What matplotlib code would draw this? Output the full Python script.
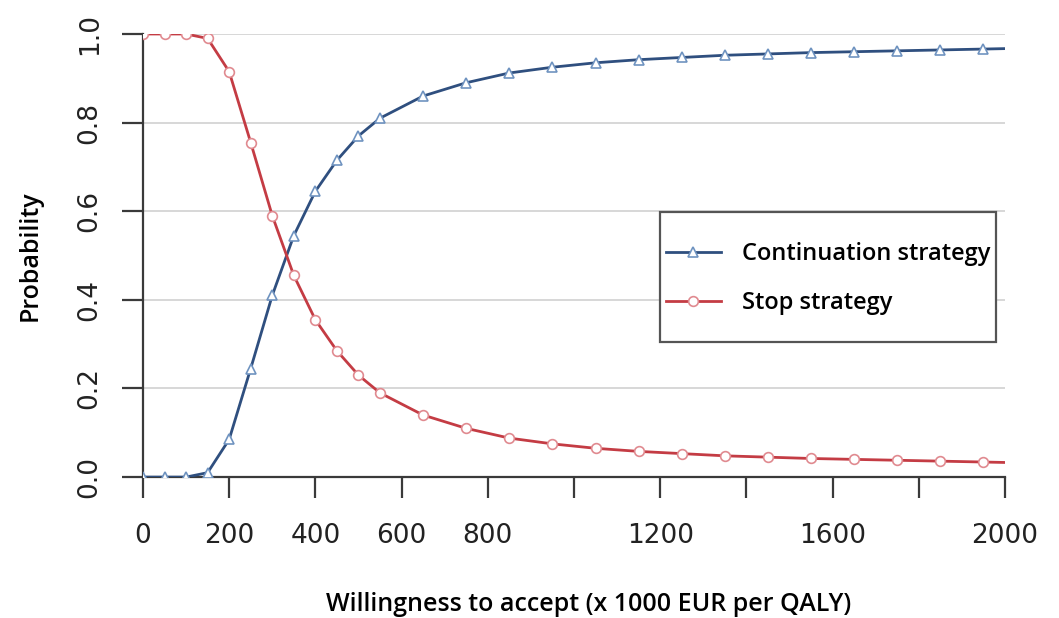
import matplotlib
matplotlib.use("Agg")
import matplotlib.pyplot as plt
from matplotlib.patches import Rectangle

# WTA (x 1000 EUR per QALY)
wta = [0, 50, 100, 150, 200, 250, 300, 350, 400, 450, 500, 550, 650, 750,
       850, 950, 1050, 1150, 1250, 1350, 1450, 1550, 1650, 1750, 1850, 1950, 2000]
continuation = [0.0, 0.0, 0.0, 0.01, 0.085, 0.245, 0.41, 0.545, 0.645, 0.715,
                0.77, 0.81, 0.86, 0.89, 0.912, 0.925, 0.935, 0.942, 0.947,
                0.952, 0.955, 0.958, 0.96, 0.962, 0.964, 0.966, 0.967]
stop = [1.0, 1.0, 1.0, 0.99, 0.915, 0.755, 0.59, 0.455, 0.355, 0.285, 0.23,
        0.19, 0.14, 0.11, 0.088, 0.075, 0.065, 0.058, 0.053, 0.048, 0.045,
        0.042, 0.04, 0.038, 0.036, 0.034, 0.033]

xticks = [0, 200, 400, 600, 800, 1000, 1200, 1400, 1600, 1800, 2000]
xticklabels = ["0", "200", "400", "600", "800", "", "1200", "", "1600", "", "2000"]
yticks = [0.0, 0.2, 0.4, 0.6, 0.8, 1.0]

blue_line, blue_mark = "#2f4f7f", "#6f93c0"
red_line, red_mark = "#c43c44", "#e08a90"
axis_col = "#3a3a3a"

fig = plt.figure(figsize=(10.59, 6.18), dpi=100)
ax = fig.add_axes([0.135, 0.228, 0.814, 0.717])

for y in yticks[1:]:
    ax.axhline(y, color="#d4d4d4", lw=1.3, zorder=0)

mk = list(range(len(wta) - 1))
ax.plot(wta, continuation, color=blue_line, lw=2, marker="^", ms=7.5,
        mfc="white", mec=blue_mark, mew=1.2, markevery=mk,
        label="Continuation strategy", zorder=3)
ax.plot(wta, stop, color=red_line, lw=2, marker="o", ms=7,
        mfc="white", mec=red_mark, mew=1.2, markevery=mk,
        label="Stop strategy", zorder=3)

ax.set_xlim(0, 2000)
ax.set_ylim(0, 1.0)
ax.set_xticks(xticks)
ax.set_xticklabels(xticklabels)
ax.set_yticks(yticks)
ax.set_yticklabels([f"{v:.1f}" for v in yticks], rotation=90, va="center")

for s in ["top", "right"]:
    ax.spines[s].set_visible(False)
for s in ["left", "bottom"]:
    ax.spines[s].set_color(axis_col)
    ax.spines[s].set_linewidth(1.6)
ax.tick_params(axis="both", direction="out", length=15, width=1.6,
               color=axis_col, labelsize=19, labelcolor="#222222")
ax.tick_params(axis="x", pad=18)
ax.tick_params(axis="y", pad=14)

lab_font = dict(family="Open Sans", fontweight="semibold", fontsize=18)
ax.set_xlabel("Willingness to accept (x 1000 EUR per QALY)", **lab_font)
ax.xaxis.set_label_coords(0.517, -0.259)
ax.set_ylabel("Probability", **lab_font)
ax.yaxis.set_label_coords(-0.116, 0.5)

# legend box drawn separately so its size matches the reference
ax.add_patch(Rectangle((0.5998, 0.3047), 0.3898, 0.2935, transform=ax.transAxes,
                       facecolor="white", edgecolor="#555555", lw=1.6, zorder=4))
leg = ax.legend(loc="center left", bbox_to_anchor=(0.607, 0.448),
                frameon=False, borderpad=0, borderaxespad=0,
                handlelength=2.3, handletextpad=0.9, labelspacing=1.05,
                prop={"family": "Open Sans", "weight": "semibold", "size": 17})
leg.set_zorder(5)

fig.savefig("out.png", dpi=100)
